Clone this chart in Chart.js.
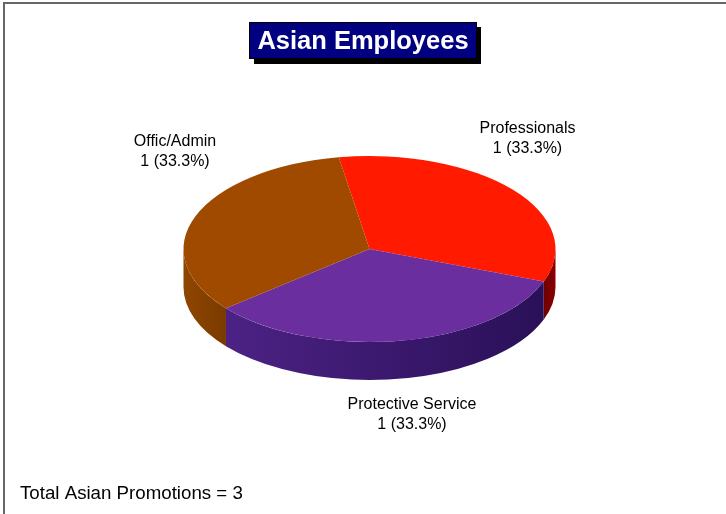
<!DOCTYPE html>
<html>
<head>
<meta charset="utf-8">
<title>Asian Employees</title>
<script src="https://cdn.jsdelivr.net/npm/chart.js@4/dist/chart.umd.min.js"></script>
<style>
    html, body { margin: 0; padding: 0; background: #fff; }
    #wrap { position: relative; width: 726px; height: 514px; overflow: hidden; }
</style>
</head>
<body>
<div id="wrap"><canvas id="pieChart" width="726" height="514"></canvas></div>
<script>
const titleText = 'Asian Employees';
const footerText = 'Total Asian Promotions = 3';
const categories = ['Professionals', 'Protective Service', 'Offic/Admin'];
const counts = [1, 1, 1];
const percents = ['33.3%', '33.3%', '33.3%'];
const sliceColors = ['#ff1a00', '#6a2e9e', '#a04a00'];
const wallColors = [
    ['#6e0000', '#8a0000'],
    ['#4c2284', '#2a1058'],
    ['#8f4600', '#7a3a00']
];

// where the tilted pie sits on the page
const pieX = 369.5, pieY = 249, pieRadius = 186, tilt = 0.5, depth = 38;
const labelSpots = [[527.5, 135.5], [412, 411.5], [175, 149]];

function arcsOf(chart) {
    return chart.getDatasetMeta(0).data;
}

const tiltedPie = {
    id: 'tiltedPie',
    beforeDraw(chart) {
        // frame lines along the top and left only
        const ctx = chart.ctx;
        ctx.save();
        ctx.fillStyle = '#666';
        ctx.fillRect(3, 2, 723, 2);
        ctx.fillRect(3, 2, 2, 512);
        ctx.restore();
    },
    beforeDatasetsDraw(chart) {
        const ctx = chart.ctx;
        // side wall: only the part facing the viewer (0..PI)
        arcsOf(chart).forEach((arc, i) => {
            const a0 = Math.max(arc.startAngle, 0);
            const a1 = Math.min(arc.endAngle, Math.PI);
            if (a1 <= a0) return;
            const ry = pieRadius * tilt;
            const x0 = pieX + pieRadius * Math.cos(a1);
            const x1 = pieX + pieRadius * Math.cos(a0);
            const grad = ctx.createLinearGradient(x0, 0, x1, 0);
            grad.addColorStop(0, wallColors[i][0]);
            grad.addColorStop(1, wallColors[i][1]);
            ctx.beginPath();
            ctx.ellipse(pieX, pieY, pieRadius, ry, 0, a0, a1);
            ctx.ellipse(pieX, pieY + depth, pieRadius, ry, 0, a1, a0, true);
            ctx.closePath();
            ctx.fillStyle = grad;
            ctx.fill();
        });
        // squash the slices the library draws next
        const first = arcsOf(chart)[0];
        ctx.save();
        ctx.translate(pieX, pieY);
        ctx.scale(1, tilt);
        ctx.translate(-first.x, -first.y);
    },
    afterDatasetsDraw(chart) {
        const ctx = chart.ctx;
        ctx.restore();

        ctx.save();
        ctx.fillStyle = '#000';
        ctx.font = '16px "Liberation Sans", Arial, sans-serif';
        ctx.textAlign = 'center';
        ctx.textBaseline = 'middle';
        categories.forEach((name, i) => {
            ctx.fillText(name, labelSpots[i][0], labelSpots[i][1] - 7);
            ctx.fillText(counts[i] + ' (' + percents[i] + ')', labelSpots[i][0], labelSpots[i][1] + 13);
        });
        ctx.restore();
    }
};

// navy box with a black drop shadow behind the title
const titleBox = {
    id: 'titleBox',
    beforeDraw(chart) {
        const ctx = chart.ctx;
        ctx.save();
        ctx.fillStyle = '#000';
        ctx.fillRect(254, 27, 227, 37);
        ctx.fillRect(249, 22, 228, 37);
        ctx.fillStyle = '#000080';
        ctx.fillRect(250, 23, 226, 35);
        ctx.restore();
    }
};

new Chart(document.getElementById('pieChart'), {
    type: 'pie',
    data: {
        labels: categories,
        datasets: [{
            data: counts,
            backgroundColor: sliceColors,
            borderWidth: 0,
            clip: false
        }]
    },
    options: {
        responsive: false,
        animation: false,
        rotation: -9.5,
        radius: pieRadius,
        layout: { padding: { left: 20, right: 20, top: 22, bottom: 9 } },
        plugins: {
            legend: { display: false },
            tooltip: { enabled: false },
            title: {
                display: true,
                text: titleText,
                color: '#fff',
                font: { family: '"Liberation Sans", Arial, sans-serif', size: 25.5, weight: 'bold', lineHeight: 1.2 },
                padding: { top: 5, bottom: 0 }
            },
            subtitle: {
                display: true,
                position: 'bottom',
                align: 'start',
                text: footerText,
                color: '#000',
                font: { family: '"Liberation Sans", Arial, sans-serif', size: 18.7, lineHeight: 1.2 },
                padding: { top: 0, bottom: 0 }
            }
        }
    },
    plugins: [titleBox, tiltedPie]
});
</script>
</body>
</html>
